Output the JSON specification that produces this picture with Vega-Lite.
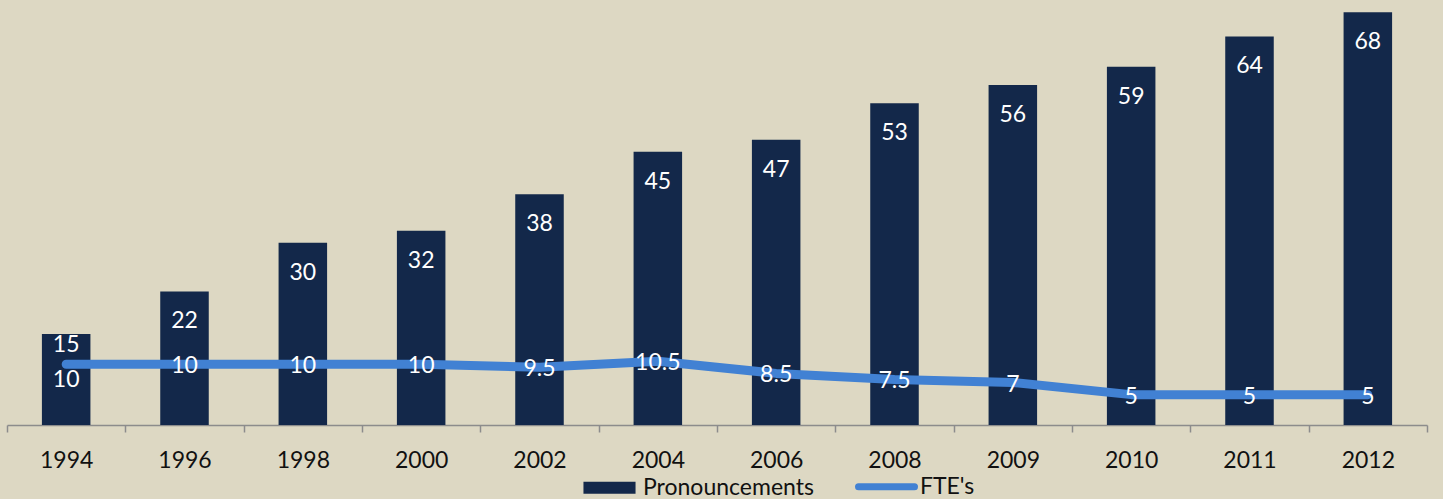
{
  "$schema": "https://vega.github.io/schema/vega-lite/v6.json",
  "width": 1420,
  "height": 425,
  "autosize": {"type": "none"},
  "padding": {"left": 7, "top": 0, "right": 16, "bottom": 74},
  "background": "#DDD8C3",
  "config": {"view": {"stroke": null}, "font": "Lato"},
  "data": {
    "values": [
      {"year": "1994", "pronouncements": 15, "fte": 10},
      {"year": "1996", "pronouncements": 22, "fte": 10},
      {"year": "1998", "pronouncements": 30, "fte": 10},
      {"year": "2000", "pronouncements": 32, "fte": 10},
      {"year": "2002", "pronouncements": 38, "fte": 9.5},
      {"year": "2004", "pronouncements": 45, "fte": 10.5},
      {"year": "2006", "pronouncements": 47, "fte": 8.5},
      {"year": "2008", "pronouncements": 53, "fte": 7.5},
      {"year": "2009", "pronouncements": 56, "fte": 7},
      {"year": "2010", "pronouncements": 59, "fte": 5},
      {"year": "2011", "pronouncements": 64, "fte": 5},
      {"year": "2012", "pronouncements": 68, "fte": 5}
    ]
  },
  "encoding": {
    "x": {
      "field": "year",
      "type": "ordinal",
      "scale": {"paddingInner": 0, "paddingOuter": 0},
      "axis": {
        "title": null,
        "labelAngle": 0,
        "tickBand": "extent",
        "domainColor": "#8c8c8c",
        "tickColor": "#8c8c8c",
        "domainWidth": 1.5,
        "tickWidth": 1.5,
        "tickSize": 7,
        "labelFontSize": 23,
        "labelColor": "#111111",
        "labelPadding": 17,
        "labelFont": "Lato"
      }
    }
  },
  "layer": [
    {
      "mark": {"type": "bar", "width": {"band": 0.41}},
      "encoding": {
        "y": {"field": "pronouncements", "type": "quantitative", "scale": {"domain": [0, 70]}, "axis": null},
        "color": {
          "datum": "Pronouncements",
          "type": "nominal",
          "scale": {"domain": ["Pronouncements", "FTE's"], "range": ["#13284A", "#4181D3"]},
          "legend": {
            "title": null,
            "orient": "none",
            "legendX": 591,
            "legendY": 475,
            "direction": "horizontal",
            "labelFontSize": 23,
            "labelColor": "#111111",
            "labelFont": "Lato",
            "labelLimit": 400,
            "symbolSize": 3136,
            "labelOffset": 22,
            "columnPadding": 30,
            "encode": {
              "symbols": {
                "update": {
                  "shape": {"signal": "datum.value === 'Pronouncements' ? 'M-0.93,-0.214H0.93V0.214H-0.93Z' : 'M-1,0H1'"},
                  "fill": {"signal": "datum.value === 'Pronouncements' ? '#13284A' : 'transparent'"},
                  "stroke": {"signal": "datum.value === 'Pronouncements' ? 'transparent' : '#4181D3'"},
                  "strokeWidth": {"signal": "datum.value === 'Pronouncements' ? 0 : 7"},
                  "strokeCap": {"value": "round"},
                  "opacity": {"value": 1}
                }
              }
            }
          }
        }
      }
    },
    {
      "mark": {"type": "line", "strokeWidth": 9, "strokeCap": "round", "strokeJoin": "round"},
      "encoding": {
        "y": {"field": "fte", "type": "quantitative"},
        "color": {"datum": "FTE's", "type": "nominal"}
      }
    },
    {
      "transform": [{"filter": "datum.year !== '1994'"}],
      "mark": {"type": "text", "color": "white", "fontSize": 23, "baseline": "middle", "dy": 30, "font": "Lato"},
      "encoding": {
        "y": {"field": "pronouncements", "type": "quantitative"},
        "text": {"field": "pronouncements"}
      }
    },
    {
      "transform": [{"filter": "datum.year === '1994'"}],
      "mark": {"type": "text", "color": "white", "fontSize": 23, "baseline": "middle", "dy": 11, "font": "Lato"},
      "encoding": {
        "y": {"field": "pronouncements", "type": "quantitative"},
        "text": {"field": "pronouncements"}
      }
    },
    {
      "transform": [{"filter": "datum.year !== '1994'"}],
      "mark": {"type": "text", "color": "white", "fontSize": 23, "baseline": "middle", "dy": 2, "font": "Lato"},
      "encoding": {
        "y": {"field": "fte", "type": "quantitative"},
        "text": {"field": "fte"}
      }
    },
    {
      "transform": [{"filter": "datum.year === '1994'"}],
      "mark": {"type": "text", "color": "white", "fontSize": 23, "baseline": "middle", "dy": 16, "font": "Lato"},
      "encoding": {
        "y": {"field": "fte", "type": "quantitative"},
        "text": {"field": "fte"}
      }
    }
  ]
}
